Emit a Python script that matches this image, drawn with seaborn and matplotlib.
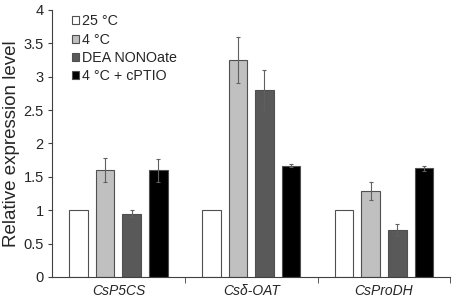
import matplotlib
matplotlib.use('Agg')
import matplotlib.pyplot as plt
import seaborn as sns
import pandas as pd
from matplotlib.ticker import FixedLocator

genes = ['CsP5CS', 'Csδ-OAT', 'CsProDH']
treatments = ['25 °C', '4 °C', 'DEA NONOate', '4 °C + cPTIO']
values = {
    '25 °C': [1.0, 1.0, 1.0],
    '4 °C': [1.6, 3.25, 1.29],
    'DEA NONOate': [0.95, 2.8, 0.7],
    '4 °C + cPTIO': [1.6, 1.67, 1.63],
}
errors = {
    '25 °C': [0.0, 0.0, 0.0],
    '4 °C': [0.18, 0.35, 0.14],
    'DEA NONOate': [0.05, 0.3, 0.09],
    '4 °C + cPTIO': [0.17, 0.02, 0.04],
}
colors = ['#ffffff', '#c0c0c0', '#595959', '#000000']

rows = []
for t in treatments:
    for g, v in zip(genes, values[t]):
        rows.append({'gene': g, 'treatment': t, 'value': v})
df = pd.DataFrame(rows)

sns.set_style('white')
plt.rcParams['font.family'] = ['Liberation Sans', 'DejaVu Sans']

fig = plt.figure(figsize=(4.58, 2.99), dpi=100)
ax = fig.add_axes([0.1135, 0.0736, 0.87, 0.893])

sns.barplot(data=df, x='gene', y='value', hue='treatment', order=genes,
            hue_order=treatments, palette=colors, gap=0.3, width=0.8,
            edgecolor='#505050', linewidth=0.8, errorbar=None, ax=ax)

# error bars on top of each bar
for i, t in enumerate(treatments):
    cont = ax.containers[i]
    xs = [p.get_x() + p.get_width() / 2 for p in cont.patches]
    ys = [p.get_height() for p in cont.patches]
    errs = errors[t]
    for x, y, e in zip(xs, ys, errs):
        if e > 0:
            ax.errorbar(x, y, yerr=e, fmt='none', ecolor='#606060',
                        elinewidth=0.8, capsize=1.5, capthick=0.8)

ax.set_ylim(0, 4)
ax.set_xlim(-0.5, 2.5)
ax.set_yticks([0, 0.5, 1, 1.5, 2, 2.5, 3, 3.5, 4])
ax.set_yticklabels(['0', '0.5', '1', '1.5', '2', '2.5', '3', '3.5', '4'], fontsize=10.5)
ax.set_xticks(range(3))
ax.set_xticklabels(genes, fontsize=10, fontstyle='italic')
ax.tick_params(axis='x', which='major', length=0, pad=5)
ax.xaxis.set_minor_locator(FixedLocator([0.5, 1.5, 2.5]))
ax.tick_params(axis='x', which='minor', length=4, direction='out', color='#404040', bottom=True)
ax.tick_params(axis='y', length=3, direction='out', color='#404040', left=True, pad=3)
ax.set_xlabel('')
ax.set_ylabel('Relative expression level', fontsize=13.5, labelpad=2)

for s in ['top', 'right']:
    ax.spines[s].set_visible(False)
for s in ['left', 'bottom']:
    ax.spines[s].set_color('#404040')
    ax.spines[s].set_linewidth(0.8)

ax.legend(loc='upper left', bbox_to_anchor=(0.035, 1.005), frameon=False,
          fontsize=10.3, handlelength=0.5, handleheight=0.5, handletextpad=0.25,
          labelspacing=0.3, borderaxespad=0)

fig.savefig('out.png', dpi=100)
